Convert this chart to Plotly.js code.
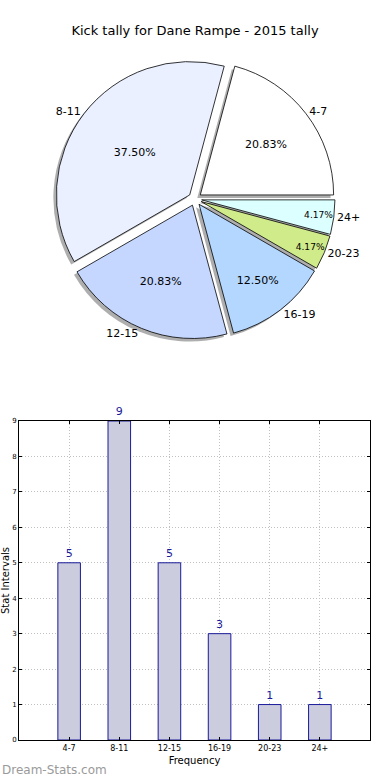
<!DOCTYPE html>
<html>
<head>
<meta charset="utf-8">
<script src="https://cdn.plot.ly/plotly-3.0.1.min.js"></script>
<style>html,body{margin:0;padding:0;background:#fff;}#chart{width:390px;height:780px;}</style>
</head>
<body>
<div id="chart"></div>
<script>
const categories = ['4-7', '8-11', '12-15', '16-19', '20-23', '24+'];
const counts = [5, 9, 5, 3, 1, 1];
const sliceColors = ['#ffffff', '#eaf0ff', '#c5d7ff', '#b4d7ff', '#d0eb8a', '#dcffff'];
const pullAmounts = [0.05, 0.05, 0.05, 0.05, 0.05, 0.05];
const yTicks = [0, 1, 2, 3, 4, 5, 6, 7, 8, 9];

const FONT = 'DejaVu Sans, sans-serif';
const W = 390, H = 780;
const cx = 195, cy = 199, half = 140;
const pieDomX = [(cx - half) / W, (cx + half) / W];
const pieDomY = [1 - (cy + half) / H, 1 - (cy - half) / H];
const sh = 3;
const total = counts.reduce((a, b) => a + b, 0);

const pieCommon = {
  type: 'pie', labels: categories, values: counts, sort: false,
  direction: 'counterclockwise', rotation: 15, pull: pullAmounts,
  hoverinfo: 'none', showlegend: false
};

const shadow = Object.assign({}, pieCommon, {
  domain: {x: [pieDomX[0] - sh / W, pieDomX[1] - sh / W], y: [pieDomY[0] - sh / H, pieDomY[1] - sh / H]},
  marker: {colors: categories.map(() => 'rgba(120,120,120,0.6)'), line: {width: 0}},
  textinfo: 'none'
});

const main = Object.assign({}, pieCommon, {
  domain: {x: pieDomX, y: pieDomY},
  marker: {colors: sliceColors, line: {color: '#000', width: 0.8}},
  texttemplate: counts.map(v => (100 * v / total).toFixed(2) + '%'),
  textposition: 'inside',
  insidetextorientation: 'horizontal',
  textfont: {family: FONT, size: 11, color: '#000'}
});

const labelsTrace = Object.assign({}, pieCommon, {
  domain: {x: pieDomX, y: pieDomY},
  marker: {colors: categories.map(() => 'rgba(0,0,0,0)'), line: {width: 0}},
  textinfo: 'label',
  textposition: 'outside',
  outsidetextfont: {family: FONT, size: 11, color: '#000'}
});

const bars = {
  type: 'bar', x: categories, y: counts, width: 0.45,
  marker: {color: '#ccccdf', line: {color: '#1a1a9a', width: 1}},
  text: counts.map(String), textposition: 'outside', cliponaxis: false,
  textfont: {family: FONT, size: 11, color: '#1a1a9a'},
  hoverinfo: 'none', showlegend: false, xaxis: 'x', yaxis: 'y'
};

const layout = {
  width: W, height: H,
  margin: {l: 0, r: 0, t: 0, b: 0},
  paper_bgcolor: '#fff', plot_bgcolor: '#fff',
  font: {family: FONT, color: '#000'},
  title: {text: 'Kick tally for Dane Rampe - 2015 tally', font: {family: FONT, size: 13, color: '#000'},
          x: 0.5, xanchor: 'center', y: 1 - 30 / H, yanchor: 'middle', yref: 'container'},
  xaxis: {
    domain: [19 / W, 370 / W], anchor: 'y', type: 'category', range: [-1, 6],
    showgrid: true, gridcolor: '#c0c0c0', griddash: '1px,2px', gridwidth: 1,
    showline: true, linecolor: '#000', linewidth: 1, mirror: 'ticks',
    ticks: 'inside', ticklen: 3, tickcolor: '#000',
    tickfont: {family: FONT, size: 8, color: '#000'},
    title: {text: 'Frequency', font: {family: FONT, size: 10, color: '#000'}, standoff: 5},
    zeroline: false, fixedrange: true
  },
  yaxis: {
    domain: [1 - 740 / H, 1 - 421 / H], anchor: 'x', range: [0, 9],
    tickvals: yTicks, ticktext: yTicks.map(String),
    showgrid: true, gridcolor: '#c0c0c0', griddash: '1px,2px', gridwidth: 1,
    showline: true, linecolor: '#000', linewidth: 1, mirror: 'ticks',
    ticks: 'inside', ticklen: 3, tickcolor: '#000',
    tickfont: {family: FONT, size: 7, color: '#000'},
    title: {text: 'Stat Intervals', font: {family: FONT, size: 10, color: '#000'}, standoff: 4},
    zeroline: false, fixedrange: true
  },
  annotations: [{
    text: 'Dream-Stats.com', xref: 'paper', yref: 'paper', x: 0, y: 1 - 770 / H,
    xanchor: 'left', yanchor: 'middle', showarrow: false,
    font: {family: FONT, size: 12, color: '#9a9a9a'}
  }]
};

Plotly.newPlot('chart', [shadow, main, labelsTrace, bars], layout, {displayModeBar: false, staticPlot: true});
</script>
</body>
</html>
